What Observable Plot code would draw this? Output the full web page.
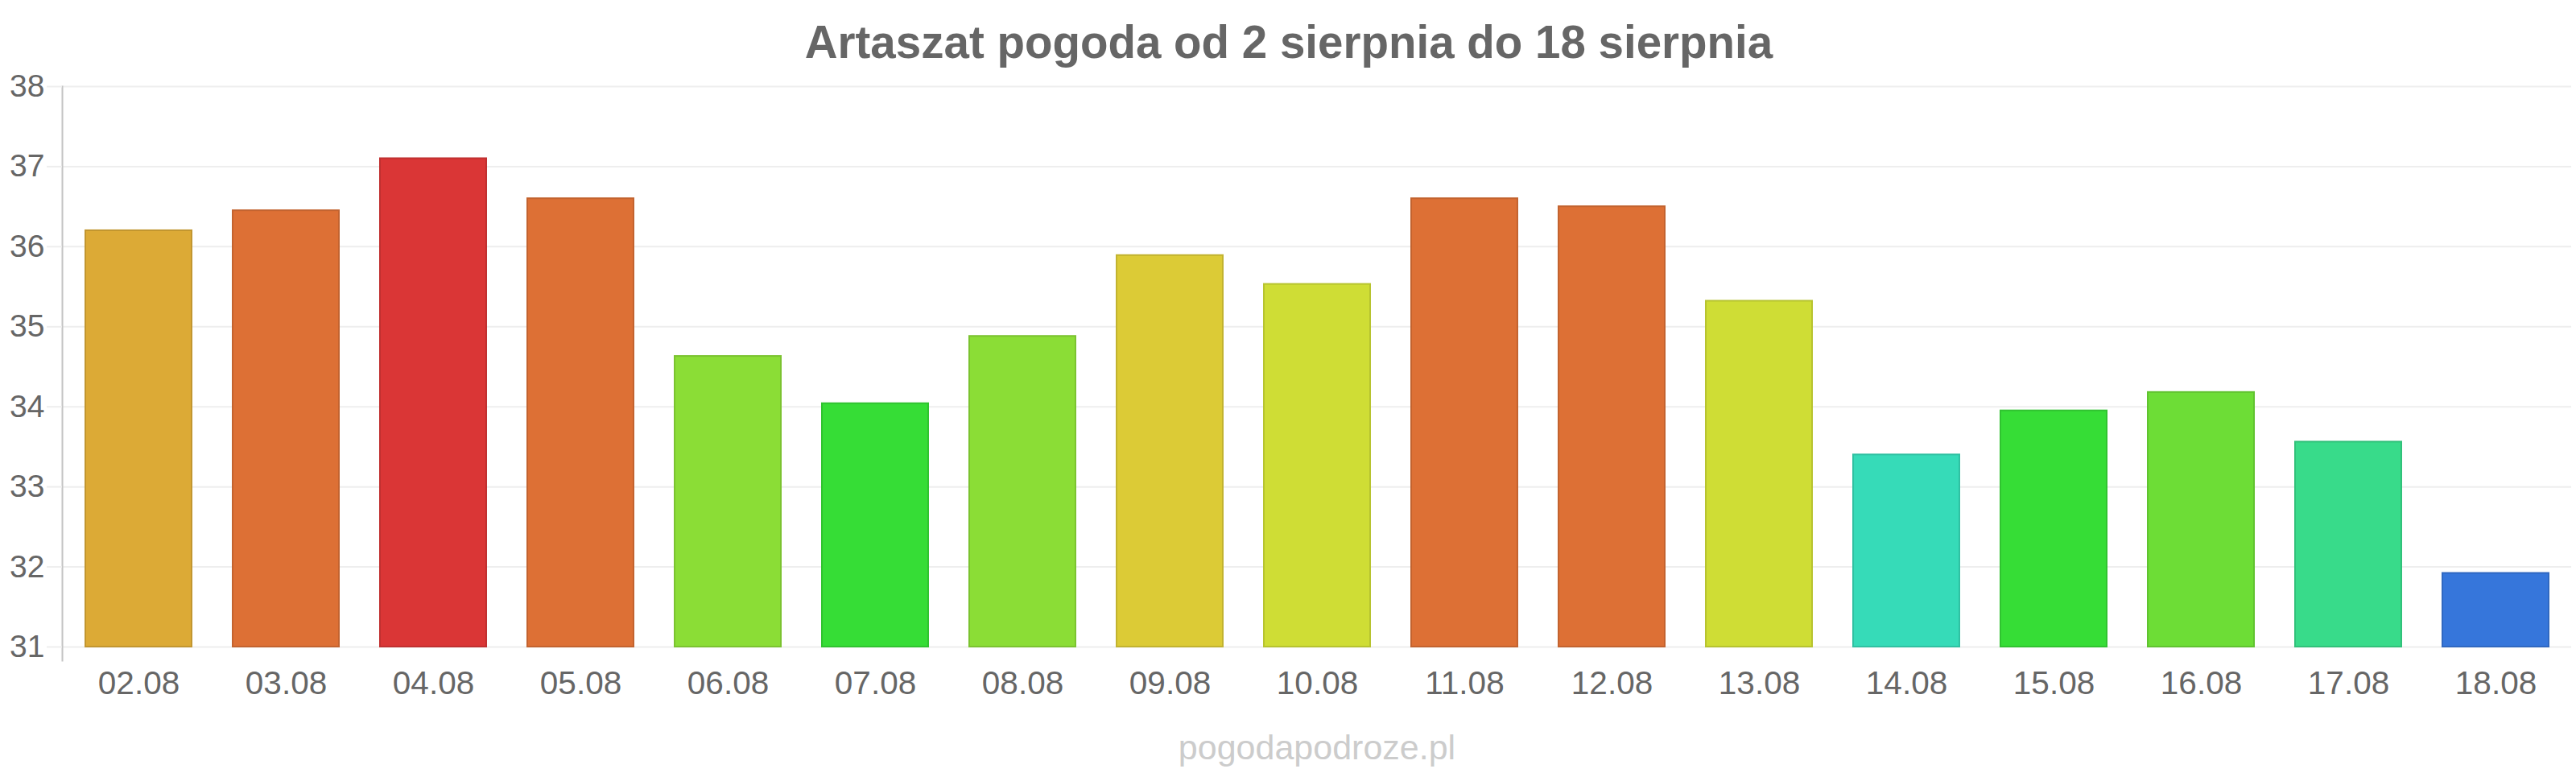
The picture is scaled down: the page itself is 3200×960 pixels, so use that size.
<!DOCTYPE html>
<html>
<head>
<meta charset="utf-8">
<script src="https://cdn.jsdelivr.net/npm/d3@7"></script>
<script src="https://cdn.jsdelivr.net/npm/@observablehq/plot@0.6"></script>
<style>
  html, body { margin: 0; padding: 0; background: #fff; }
  #chart svg { display: block; }
</style>
</head>
<body>
<div id="chart"></div>
<script>
const titleText = "Artaszat pogoda od 2 sierpnia do 18 sierpnia";
const captionText = "pogodapodroze.pl";
const dates = ["02.08","03.08","04.08","05.08","06.08","07.08","08.08","09.08","10.08","11.08","12.08","13.08","14.08","15.08","16.08","17.08","18.08"];
const temps = [36.2, 36.45, 37.1, 36.6, 34.63, 34.04, 34.88, 35.89, 35.53, 36.6, 36.5, 35.32, 33.4, 33.95, 34.18, 33.56, 31.92];
const barColors = ["#dcaa36","#dd7035","#da3636","#dd7035","#8bdd36","#36dd36","#8bdd36","#dccb36","#cfdd35","#dd7035","#dd7035","#cfdd35","#36dbb8","#36dd36","#6ddd36","#38db8a","#3676db"];
const yTicks = [31, 32, 33, 34, 35, 36, 37, 38];

const yMin = 31, yMax = 38;
const data = dates.map((d, i) => ({date: d, value: temps[i], color: barColors[i]}));

const font = "'Liberation Sans', Arial, sans-serif";

const chart = Plot.plot({
  width: 3200,
  height: 960,
  marginTop: 107,
  marginBottom: 140,
  marginLeft: 77,
  marginRight: 6,
  insetBottom: 17,
  style: {fontFamily: font, background: "#fff", overflow: "visible"},
  x: {domain: dates, paddingInner: 0.28, paddingOuter: 0.14, label: null},
  y: {domain: [yMin, yMax], label: null},
  color: {type: "identity"},
  marks: [
    Plot.gridY(yTicks, {stroke: "#eeeeee", strokeOpacity: 1, strokeWidth: 2}),
    Plot.frame({anchor: "left", stroke: "#c4c4c4", strokeWidth: 2}),
    Plot.barY(data, {
      x: "date",
      y1: () => yMin,
      y2: "value",
      fill: "color",
      stroke: d => d3.color(d.color).darker(0.35).formatHex(),
      strokeWidth: 2
    }),
    Plot.axisY(yTicks, {
      tickSize: 19, tickPadding: 3, stroke: "#eeeeee", strokeWidth: 2,
      tickFormat: d3.format("d"),
      fontSize: 39, fill: "#666666", label: null
    }),
    Plot.axisX({
      tickSize: 0, tickPadding: 13, fontSize: 40.5, fill: "#666666", label: null
    }),
    Plot.text([titleText], {
      frameAnchor: "top", lineAnchor: "bottom", dy: -36, dx: -35,
      fontSize: 56.5, fontWeight: "bold", fill: "#666666"
    }),
    Plot.text([captionText], {
      frameAnchor: "bottom", lineAnchor: "bottom", dy: 122,
      fontSize: 43, fill: "#cccccc"
    })
  ]
});
document.getElementById("chart").appendChild(chart);
</script>
</body>
</html>
